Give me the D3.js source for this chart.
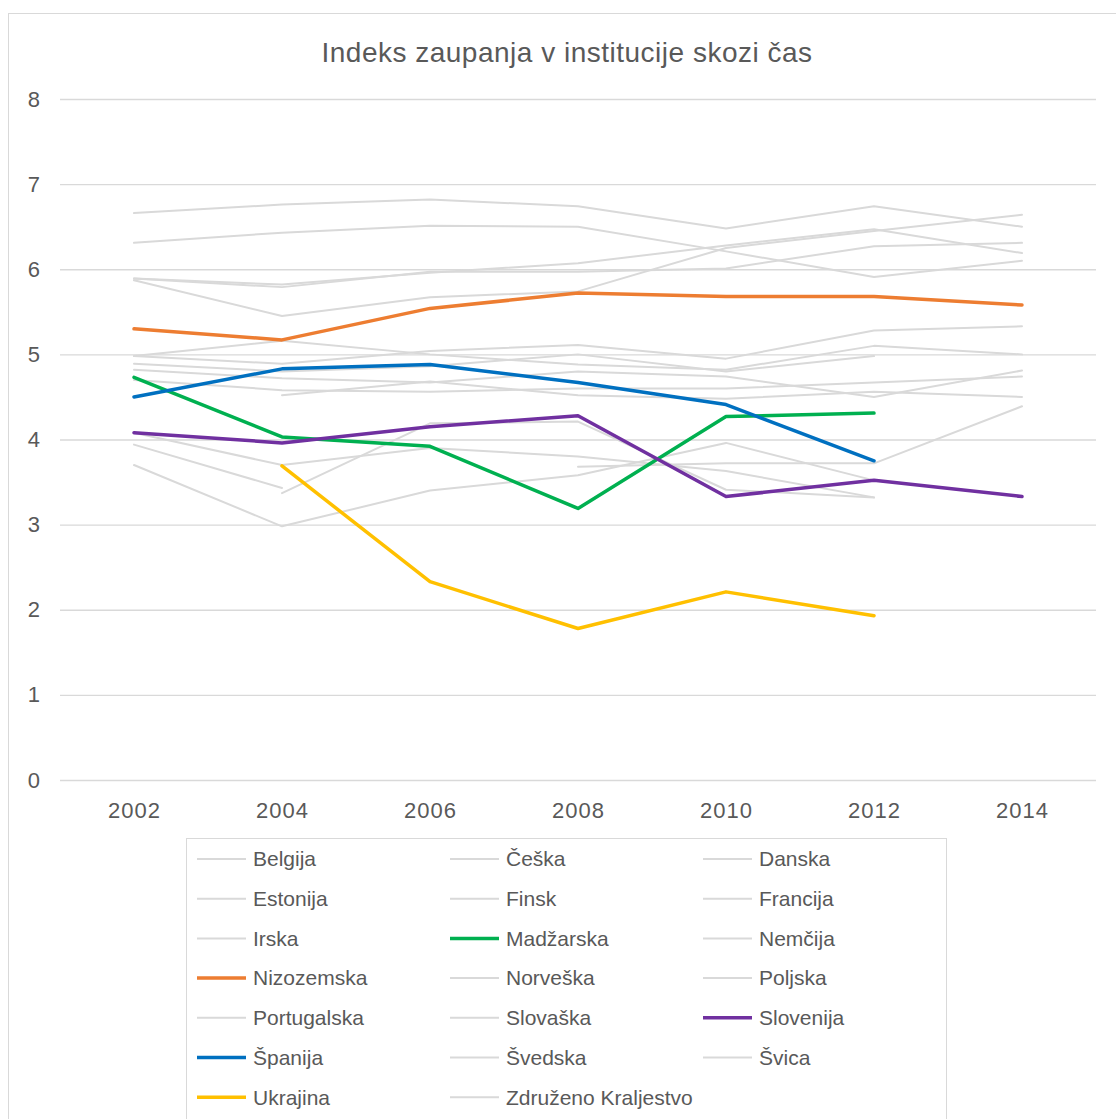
<!DOCTYPE html>
<html>
<head>
<meta charset="utf-8">
<script src="https://cdn.jsdelivr.net/npm/d3@7"></script>
<style>
  body { margin: 0; background: #fff; }
  #chart { font-family: "Liberation Sans", Arial, sans-serif; }
</style>
</head>
<body>
<div id="chart"></div>
<script>
// Data
const years = ["2002", "2004", "2006", "2008", "2010", "2012", "2014"];
const yTicks = [0, 1, 2, 3, 4, 5, 6, 7, 8];
const chartTitle = "Indeks zaupanja v institucije skozi čas";

const countries = ["Belgija", "Češka", "Danska", "Estonija", "Finsk", "Francija", "Irska",
    "Madžarska", "Nemčija", "Nizozemska", "Norveška", "Poljska", "Portugalska", "Slovaška",
    "Slovenija", "Španija", "Švedska", "Švica", "Ukrajina", "Združeno Kraljestvo"];

const belgija     = [4.98, 5.16, 5.00, 4.88, 4.82, 5.10, 5.00];
const ceska       = [3.94, 3.43, null, 3.68, 3.72, 3.72, 4.39];
const danska      = [6.66, 6.76, 6.82, 6.74, 6.48, 6.74, 6.50];
const estonija    = [null, 4.52, 4.68, 4.52, 4.48, 4.56, 4.50];
const finsk       = [5.89, 5.82, 5.96, 6.07, 6.28, 6.47, 6.19];
const francija    = [4.70, 4.58, 4.56, 4.60, 4.60, 4.67, 4.74];
const irska       = [4.82, 4.72, 4.67, 4.80, 4.74, 4.50, 4.81];
const madzarska   = [4.73, 4.03, 3.92, 3.19, 4.27, 4.31, null];
const nemcija     = [4.98, 4.89, 5.04, 5.11, 4.95, 5.28, 5.33];
const nizozemska  = [5.30, 5.17, 5.54, 5.72, 5.68, 5.68, 5.58];
const norveska    = [6.31, 6.43, 6.51, 6.50, 6.21, 5.91, 6.10];
const poljska     = [4.08, 3.70, 3.90, 3.80, 3.63, 3.32, null];
const portugalska = [3.70, 2.98, 3.40, 3.58, 3.96, 3.52, null];
const slovaska    = [null, 3.37, 4.19, 4.21, 3.41, 3.32, null];
const slovenija   = [4.08, 3.96, 4.15, 4.28, 3.33, 3.52, 3.33];
const spanija     = [4.50, 4.83, 4.88, 4.67, 4.41, 3.75, null];
const svedska     = [5.89, 5.79, 5.97, 5.97, 6.01, 6.27, 6.31];
const svica       = [5.87, 5.45, 5.67, 5.74, 6.25, 6.45, 6.64];
const ukrajina    = [null, 3.69, 2.33, 1.78, 2.21, 1.93, null];
const zdruzeno    = [4.89, 4.80, 4.86, 5.00, 4.80, 4.98, null];

const seriesValues = [belgija, ceska, danska, estonija, finsk, francija, irska,
    madzarska, nemcija, nizozemska, norveska, poljska, portugalska, slovaska,
    slovenija, spanija, svedska, svica, ukrajina, zdruzeno];

// Highlighted countries, everything else is grey
const highlight = {
    "Madžarska": "#00B050",
    "Nizozemska": "#ED7D31",
    "Slovenija": "#7030A0",
    "Španija": "#0070C0",
    "Ukrajina": "#FFC000"
};
const grey = "#d9d9d9";
const textColor = "#595959";

const series = countries.map((name, i) => ({
    name: name,
    color: highlight[name] || grey,
    main: !!highlight[name],
    values: years.map((y, j) => ({ year: y, value: seriesValues[i][j] }))
}));

const width = 1116, height = 1119;

const svg = d3.select("#chart")
    .append("svg")
    .attr("width", width)
    .attr("height", height);

// Chart frame
svg.append("rect")
    .attr("x", 8.5)
    .attr("y", 13.5)
    .attr("width", width)
    .attr("height", height)
    .attr("fill", "#fff")
    .attr("stroke", grey);

svg.append("text")
    .attr("x", 567)
    .attr("y", 62)
    .attr("text-anchor", "middle")
    .attr("fill", textColor)
    .style("font-size", "28px")
    .style("letter-spacing", "0.5px")
    .text(chartTitle);

const xScale = d3.scalePoint()
    .domain(years)
    .range([60, 1096])
    .padding(0.5);

const yScale = d3.scaleLinear()
    .domain([0, 8])
    .range([780, 99]);

// Gridlines + y labels
const yAxis = d3.axisLeft(yScale)
    .tickValues(yTicks)
    .tickSize(-(1096 - 60))
    .tickPadding(20)
    .tickFormat(d3.format("d"));

const gy = svg.append("g")
    .attr("transform", "translate(60,0)")
    .call(yAxis);
gy.select(".domain").remove();
gy.selectAll(".tick line").attr("stroke", grey).attr("stroke-width", 1.3);
gy.selectAll(".tick text")
    .attr("fill", textColor)
    .style("font-size", "22px")
    .style("font-family", "inherit");

const xAxis = d3.axisBottom(xScale).tickSize(0).tickPadding(22);
const gx = svg.append("g")
    .attr("transform", "translate(0,780)")
    .call(xAxis);
gx.select(".domain").remove();
gx.selectAll(".tick text")
    .attr("fill", textColor)
    .style("font-size", "22px")
    .style("letter-spacing", "1px")
    .style("font-family", "inherit");

const line = d3.line()
    .defined(d => d.value !== null)
    .x(d => xScale(d.year))
    .y(d => yScale(d.value));

// grey ones first so the coloured lines sit on top
const ordered = series.filter(s => !s.main).concat(series.filter(s => s.main));

svg.append("g")
    .selectAll("path")
    .data(ordered)
    .enter()
    .append("path")
    .attr("d", d => line(d.values))
    .attr("fill", "none")
    .attr("stroke", d => d.color)
    .attr("stroke-width", d => d.main ? 3.5 : 2)
    .attr("stroke-linejoin", "round")
    .attr("stroke-linecap", "round");

// Legend
svg.append("rect")
    .attr("x", 186.5)
    .attr("y", 838.5)
    .attr("width", 760)
    .attr("height", 300)
    .attr("fill", "none")
    .attr("stroke", grey);

const legend = svg.append("g")
    .selectAll("g")
    .data(series)
    .enter()
    .append("g")
    .attr("transform", (d, i) => `translate(${197 + (i % 3) * 253},${859 + Math.floor(i / 3) * 39.7})`);

legend.append("line")
    .attr("x1", 0)
    .attr("x2", 49)
    .attr("stroke", d => d.color)
    .attr("stroke-width", d => d.main ? 3.5 : 2);

legend.append("text")
    .attr("x", 56)
    .attr("dy", "0.35em")
    .attr("fill", textColor)
    .style("font-size", "21px")
    .text(d => d.name);
</script>
</body>
</html>
